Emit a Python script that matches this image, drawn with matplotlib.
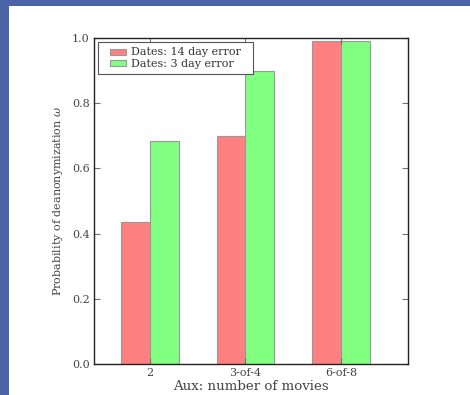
import numpy as np
import matplotlib.pyplot as plt
from matplotlib.patches import Rectangle
from matplotlib.container import BarContainer
from matplotlib.legend_handler import HandlerPatch, update_from_first_child

# --- data ---
categories = ["2", "3-of-4", "6-of-8"]
err14 = [0.435, 0.70, 0.99]
err3 = [0.685, 0.90, 0.99]
labels = ["Dates: 14 day error", "Dates: 3 day error"]
# ------------

plt.rcParams['font.family'] = 'DejaVu Serif'
plt.rcParams['mathtext.fontset'] = 'dejavuserif'

fig = plt.figure(figsize=(4.70, 3.95), dpi=100)
fig.patch.set_facecolor("#4a64a6")
# white slide area behind the axes
fig.patches.append(Rectangle((8.5 / 470, 0), 1, 1 - 5.5 / 395, transform=fig.transFigure,
                             facecolor="white", edgecolor="none", zorder=-10))

ax = fig.add_axes([94 / 470, 31 / 395, 313.7 / 470, 326 / 395])
x = np.arange(len(categories))
w = 0.3
b1 = ax.bar(x - w / 2, err14, w, color="#ff8080", edgecolor="#999999", linewidth=0.8)
b2 = ax.bar(x + w / 2, err3, w, color="#80ff80", edgecolor="#999999", linewidth=0.8)

ax.set_xlim(-0.586, 2.70)
ax.set_ylim(0, 1.0)
ax.set_xticks(x)
ax.set_xticklabels(categories)
ax.set_yticks([0.0, 0.2, 0.4, 0.6, 0.8, 1.0])
ax.tick_params(direction="in", top=True, right=True, labelsize=8, length=4,
               color="#707070", labelcolor="#444444", width=0.8, pad=3)
for s in ax.spines.values():
    s.set_color("#222222")
    s.set_linewidth(1.0)

ax.set_xlabel("Aux: number of movies", fontsize=9.6, color="#444444", labelpad=1)
ax.set_ylabel(r"Probability of deanonymization $\omega$", fontsize=8, color="#444444", labelpad=5)


def small_box(legend, orig_handle, xdescent, ydescent, width, height, fontsize):
    bw = 1.45 * fontsize
    bh = 0.55 * fontsize
    return Rectangle((-xdescent + width - bw, -ydescent + (height - bh) / 2), bw, bh)


leg = ax.legend([b1, b2], [lab + "  " for lab in labels], loc="upper left", fontsize=8,
                fancybox=False, framealpha=1, edgecolor="#555555",
                handlelength=2.0, handleheight=0.7, handletextpad=0.5,
                borderpad=0.45, labelspacing=0.15, borderaxespad=0.4,
                handler_map={BarContainer: HandlerPatch(patch_func=small_box,
                                                        update_func=update_from_first_child)})
leg.get_frame().set_linewidth(0.8)
for t in leg.get_texts():
    t.set_color("#333333")

fig.savefig("out.png", dpi=100, facecolor=fig.get_facecolor())
